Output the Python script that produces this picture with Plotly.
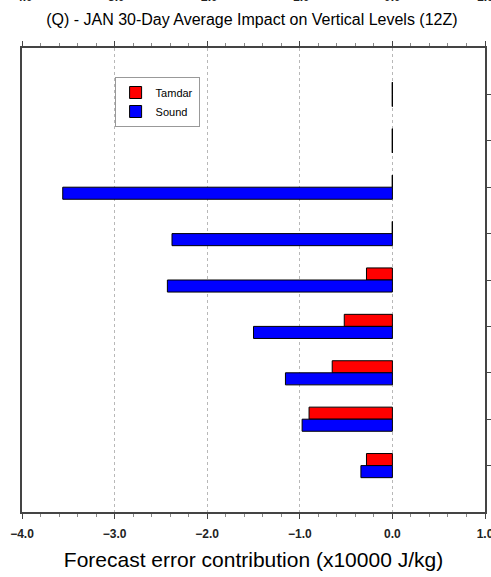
import plotly.graph_objects as go

# Vertical levels, listed from the top of the panel downward
levels = [1, 2, 3, 4, 5, 6, 7, 8, 9]
tamdar = [0.0, 0.0, 0.0, 0.0, -0.28, -0.52, -0.65, -0.90, -0.28]
sound = [0.0, 0.0, -3.56, -2.38, -2.43, -1.50, -1.155, -0.975, -0.34]
x_ticks = [-4.0, -3.0, -2.0, -1.0, 0.0, 1.0]

FONT = "Liberation Sans, Arial, Helvetica, sans-serif"
BAR_W = 0.26

fig = go.Figure()
fig.add_trace(go.Bar(
    name="Tamdar", y=levels, x=tamdar, orientation="h",
    marker=dict(color="#FF0000", line=dict(color="black", width=1)),
))
fig.add_trace(go.Bar(
    name="Sound", y=levels, x=sound, orientation="h",
    marker=dict(color="#0000FF", line=dict(color="black", width=1)),
))

# Zero-valued bars collapse to their outline edge at x = 0
seg_x, seg_y = [], []
for series, (lo, hi) in ((tamdar, (-BAR_W, 0.0)), (sound, (0.0, BAR_W))):
    for lvl, v in zip(levels, series):
        if v == 0:
            seg_x += [v, v, None]
            seg_y += [lvl + lo, lvl + hi, None]
fig.add_trace(go.Scatter(
    x=seg_x, y=seg_y, mode="lines", line=dict(color="black", width=1.2),
    showlegend=False, hoverinfo="skip",
))

# Tick labels of the panel above, clipped at the top edge
for t in x_ticks:
    fig.add_annotation(
        x=t, xref="x", y=1, yref="paper", yanchor="middle", yshift=51,
        text=f"{t:.1f}", showarrow=False,
        font=dict(family=FONT, size=12, color="#222", weight="bold"),
    )

fig.update_layout(
    width=491, height=577,
    margin=dict(l=22, r=6, t=48, b=65, autoexpand=False),
    paper_bgcolor="white", plot_bgcolor="white",
    barmode="group", bargap=0.48, bargroupgap=0,
    font=dict(family=FONT, color="black"),
    title=dict(
        text="(Q) - JAN 30-Day Average Impact on Vertical Levels (12Z)",
        x=0.513, xanchor="center", y=1 - 19 / 577, yanchor="middle",
        font=dict(family=FONT, size=16, color="black"),
    ),
    legend=dict(
        x=0.2, y=0.9375, xanchor="left", yanchor="top",
        bgcolor="white", bordercolor="#999", borderwidth=1,
        font=dict(family=FONT, size=11, color="black"),
        traceorder="normal",
    ),
    xaxis=dict(
        range=[-4, 1], tickvals=x_ticks, tickformat=".1f", automargin=False,
        ticklabeloverflow="allow", ticklabelstandoff=5,
        ticks="outside", ticklen=5, tickwidth=1, tickcolor="#444",
        minor=dict(dtick=0.2, ticks="outside", ticklen=3, tickcolor="#888", showgrid=False),
        showline=True, linecolor="#444", linewidth=1.5, mirror="ticks",
        showgrid=True, gridcolor="#b8b8b8", griddash="dot", gridwidth=1,
        zeroline=False,
        tickfont=dict(family=FONT, size=12, color="#222", weight="bold"),
        title=dict(text="Forecast error contribution (x10000 J/kg)",
                   font=dict(family=FONT, size=21, color="black"), standoff=12),
    ),
    yaxis=dict(
        range=[10, 0], tickvals=levels, showticklabels=False, side="right",
        automargin=False,
        ticks="outside", ticklen=5, tickcolor="#444",
        showline=True, linecolor="#444", linewidth=1.5, mirror=True,
        showgrid=False, zeroline=False,
    ),
)

fig.write_html("out.html")
